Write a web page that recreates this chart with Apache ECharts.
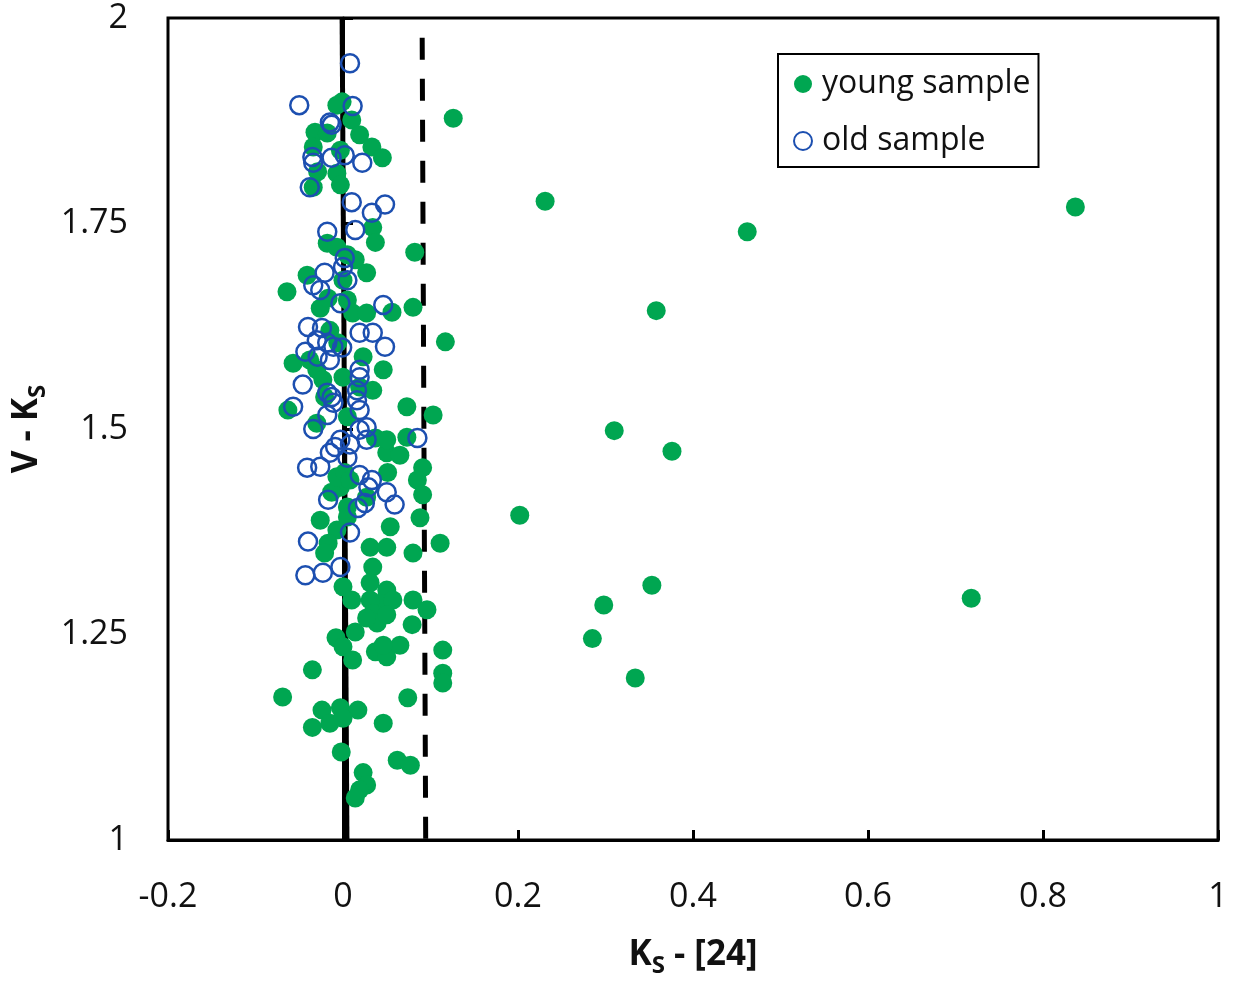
<!DOCTYPE html>
<html><head><meta charset="utf-8">
<script src="https://cdn.jsdelivr.net/npm/echarts@6/dist/echarts.min.js"></script>
<style>html,body{margin:0;padding:0;background:#fff}#c{width:1241px;height:982px}</style>
</head><body><div id="c"></div>
<script>
const xTicks = [-0.2, 0, 0.2, 0.4, 0.6, 0.8, 1];
const yTicks = [1, 1.25, 1.5, 1.75, 2];
const youngSample = [
[-0.001,1.898],[-0.007,1.894],[0.010,1.876],[-0.032,1.861],[-0.018,1.860],[0.019,1.858],[0.033,1.843],[0.045,1.830],
[-0.034,1.843],[-0.003,1.839],[-0.029,1.813],[-0.007,1.811],[-0.034,1.794],[-0.003,1.797],[0.126,1.878],[0.034,1.745],
[0.037,1.727],[-0.018,1.726],[-0.007,1.721],[0.005,1.712],[0.014,1.706],[0.082,1.715],[-0.064,1.667],[-0.041,1.687],
[0.000,1.681],[0.027,1.690],[-0.026,1.647],[-0.017,1.659],[0.005,1.657],[0.011,1.641],[0.027,1.641],[0.056,1.642],
[0.080,1.648],[0.117,1.606],[-0.057,1.580],[-0.038,1.584],[-0.030,1.572],[-0.023,1.560],[0.023,1.588],[0.046,1.572],
[-0.006,1.605],[-0.015,1.620],[0.000,1.563],[0.019,1.551],[0.034,1.547],[0.073,1.527],[0.103,1.517],[-0.063,1.523],
[-0.021,1.539],[0.005,1.515],[-0.030,1.507],[-0.026,1.389],[-0.007,1.377],[-0.017,1.361],[-0.021,1.349],[-0.003,1.429],
[-0.013,1.423],[-0.007,1.442],[0.002,1.447],[0.008,1.438],[0.005,1.405],[0.005,1.393],[0.027,1.417],[0.031,1.356],
[0.034,1.332],[0.054,1.381],[0.050,1.356],[0.051,1.447],[0.050,1.471],[0.065,1.468],[0.037,1.489],[0.050,1.487],
[0.073,1.490],[0.091,1.453],[0.085,1.438],[0.091,1.420],[0.088,1.392],[0.111,1.361],[0.080,1.349],[0.000,1.308],
[0.031,1.313],[0.050,1.304],[0.042,1.288],[0.057,1.292],[0.031,1.292],[0.080,1.292],[0.096,1.280],[0.010,1.292],
[0.202,1.395],[-0.035,1.207],[-0.008,1.246],[0.000,1.235],[0.014,1.253],[0.011,1.219],[0.034,1.276],[0.039,1.264],
[0.027,1.270],[0.050,1.274],[0.037,1.229],[0.050,1.223],[0.065,1.237],[0.046,1.237],[0.079,1.262],[0.114,1.231],
[0.114,1.203],[0.114,1.191],[0.074,1.173],[-0.069,1.174],[-0.024,1.158],[-0.003,1.161],[0.017,1.158],[-0.015,1.142],
[-0.035,1.137],[0.000,1.148],[0.046,1.142],[-0.002,1.107],[0.062,1.097],[0.077,1.091],[0.023,1.082],[0.027,1.067],
[0.019,1.061],[0.014,1.051],[0.231,1.777],[0.837,1.770],[0.462,1.740],[0.358,1.644],[0.310,1.498],[0.376,1.473],
[0.353,1.310],[0.298,1.286],[0.718,1.294],[0.285,1.245],[0.334,1.197]
];
const oldSample = [
[0.008,1.945],[-0.050,1.894],[0.011,1.893],[-0.015,1.873],[-0.013,1.870],[-0.035,1.831],[-0.034,1.824],[-0.013,1.830],
[0.002,1.833],[0.022,1.824],[-0.038,1.794],[0.010,1.776],[0.048,1.773],[0.033,1.763],[-0.018,1.740],[0.014,1.742],
[0.002,1.708],[0.000,1.697],[-0.021,1.690],[-0.034,1.675],[-0.026,1.669],[0.005,1.681],[-0.003,1.653],[0.046,1.651],
[-0.040,1.624],[-0.024,1.623],[-0.030,1.608],[-0.018,1.605],[-0.011,1.600],[0.019,1.617],[0.034,1.617],[0.048,1.600],
[-0.001,1.599],[-0.043,1.594],[-0.029,1.588],[-0.015,1.584],[0.019,1.572],[0.019,1.563],[-0.046,1.554],[-0.018,1.544],
[-0.013,1.539],[0.016,1.547],[0.016,1.535],[-0.057,1.527],[-0.018,1.517],[-0.011,1.532],[0.019,1.523],[-0.034,1.500],
[-0.003,1.487],[-0.009,1.478],[-0.015,1.471],[0.008,1.481],[0.027,1.502],[0.027,1.487],[0.085,1.489],[-0.041,1.453],
[-0.026,1.454],[0.005,1.465],[0.019,1.444],[0.033,1.438],[0.029,1.429],[0.050,1.423],[0.059,1.408],[-0.017,1.414],
[0.017,1.404],[0.025,1.410],[0.008,1.374],[-0.040,1.363],[-0.043,1.322],[-0.023,1.325],[-0.003,1.332],[0.019,1.499]
];
const solidLine = [[-0.001,2],[0.0045,1]];
const dashedLine = [[0.0905,1.976],[0.0945,1]];

const FONT = '"Open Sans", sans-serif';
const chart = echarts.init(document.getElementById('c'), null, {renderer:'canvas'});
chart.setOption({
  animation:false,
  backgroundColor:'#fff',
  grid:{left:168,right:23,top:18,bottom:142,outerBoundsMode:'none',containLabel:false,show:true,borderColor:'#000',borderWidth:3,backgroundColor:'transparent'},
  xAxis:{type:'value',min:xTicks[0],max:xTicks[xTicks.length-1],interval:0.2,
    axisLine:{lineStyle:{color:'#000',width:3}},
    axisTick:{inside:true,length:10,lineStyle:{color:'#000',width:3}},
    splitLine:{show:false},
    axisLabel:{margin:40,color:'#111',fontSize:34,fontFamily:FONT,formatter:v=>String(+v.toFixed(2))},
    name:'{b|K}{s|S}{b| - [24]}',nameLocation:'middle',nameGap:92,
    nameTextStyle:{rich:{b:{fontSize:35,fontWeight:'bold',fontFamily:FONT,color:'#111'},
                         s:{fontSize:24,fontWeight:'bold',fontFamily:FONT,color:'#111',verticalAlign:'bottom',padding:[22,0,0,0]}}}
  },
  yAxis:{type:'value',min:yTicks[0],max:yTicks[yTicks.length-1],interval:0.25,
    axisLine:{lineStyle:{color:'#000',width:3}},
    axisTick:{inside:true,length:10,lineStyle:{color:'#000',width:3}},
    splitLine:{show:false},
    axisLabel:{margin:40,color:'#111',fontSize:34,fontFamily:FONT,formatter:v=>String(+v.toFixed(2))},
    name:'{b|V - K}{s|S}',nameLocation:'middle',nameGap:118,nameRotate:90,
    nameTextStyle:{rich:{b:{fontSize:35,fontWeight:'bold',fontFamily:FONT,color:'#111'},
                         s:{fontSize:24,fontWeight:'bold',fontFamily:FONT,color:'#111',verticalAlign:'bottom',padding:[22,0,0,0]}}}
  },
  legend:{left:778,top:54,orient:'vertical',itemWidth:18,itemHeight:18,itemGap:25,itemTextGap:18,
    padding:[14,8,10,15],borderColor:'#000',borderWidth:2,backgroundColor:'#fff',
    textStyle:{fontSize:32,fontFamily:FONT,color:'#111',padding:[0,0,0,5]},
    data:[{name:'young sample',icon:'circle'},{name:'old sample',icon:'circle'}]},
  series:[
    {type:'line',data:solidLine,symbol:'none',silent:true,lineStyle:{color:'#000',width:5},z:1},
    {type:'line',data:dashedLine,symbol:'none',silent:true,lineStyle:{color:'#000',width:5,type:[22,19]},z:1},
    {name:'young sample',type:'scatter',data:youngSample,symbol:'circle',symbolSize:19,
      itemStyle:{color:'#00a651',opacity:1},z:2},
    {name:'old sample',type:'scatter',data:oldSample,symbol:'circle',symbolSize:18,
      itemStyle:{color:'rgba(255,255,255,0)',borderColor:'#1c4fb0',borderWidth:2.5,opacity:1},z:3}
  ]
});
</script></body></html>
